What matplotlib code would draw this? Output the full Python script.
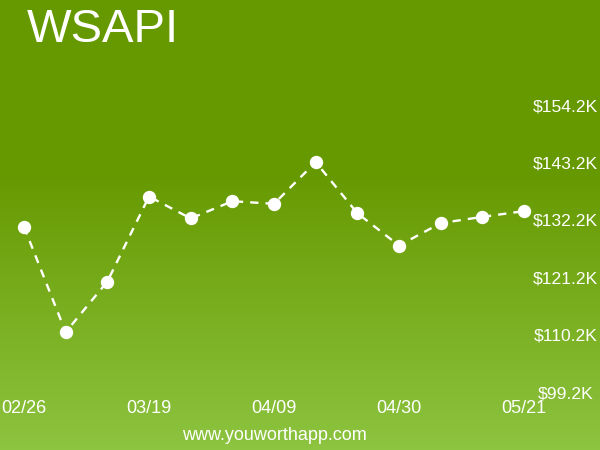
import numpy as np
import matplotlib
matplotlib.use("Agg")
from matplotlib import pyplot as plt

plt.rcParams['font.family'] = ['Liberation Sans', 'DejaVu Sans']

# weekly values, in thousands of dollars
weeks = ['02/26', '03/05', '03/12', '03/19', '03/26', '04/02', '04/09',
         '04/16', '04/23', '04/30', '05/07', '05/14', '05/21']
values = [130.9, 110.7, 120.4, 136.7, 132.5, 135.8, 135.3,
          143.3, 133.5, 127.3, 131.6, 132.8, 133.9]
y_ticks = [99.2, 110.2, 121.2, 132.2, 143.2, 154.2]

fig = plt.figure(figsize=(6, 4.5), dpi=100)

# green gradient background
bg = fig.add_axes([0, 0, 1, 1])
top = np.array([102, 153, 0]) / 255
bottom = np.array([141, 196, 64]) / 255
t = np.clip((np.linspace(0, 1, 450) - 0.38) / 0.62, 0, 1)[:, None]
grad = top * (1 - t) + bottom * t
bg.imshow(grad[:, None, :].repeat(2, axis=1), aspect='auto', extent=[0, 1, 0, 1])
bg.set_axis_off()

ax = fig.add_axes([0, 0, 1, 1])
ax.patch.set_alpha(0)
x = np.arange(len(values))
ax.plot(x, values, color='white', lw=1.7, ls=(0, (3.5, 3)),
        marker='o', ms=8.6, mfc='white', mec='white')
ax.set_xlim(-24 / 41.67, 576 / 41.67)
ax.set_ylim(88.12, 174.36)

ax.set_xticks(x[::3])
ax.set_xticklabels([weeks[i] for i in x[::3]])
ax.set_yticks(y_ticks)
ax.set_yticklabels([f"${v:.1f}K" for v in y_ticks])
ax.yaxis.tick_right()
ax.tick_params(axis='x', length=0, pad=-36, labelsize=13, labelcolor='white')
ax.tick_params(axis='y', length=0, pad=-25, labelsize=12.6, labelcolor='white')
for lab in ax.get_yticklabels():
    lab.set_ha('center')
for s in ax.spines.values():
    s.set_visible(False)

fig.text(27 / 600, 1 - 42 / 450, "WSAPI", color='white', fontsize=34,
         ha='left', va='baseline')
fig.text(274 / 600, 1 - 436 / 450, "www.youworthapp.com", color='white',
         fontsize=13, ha='center', va='center')

fig.savefig("out.png", dpi=100)
